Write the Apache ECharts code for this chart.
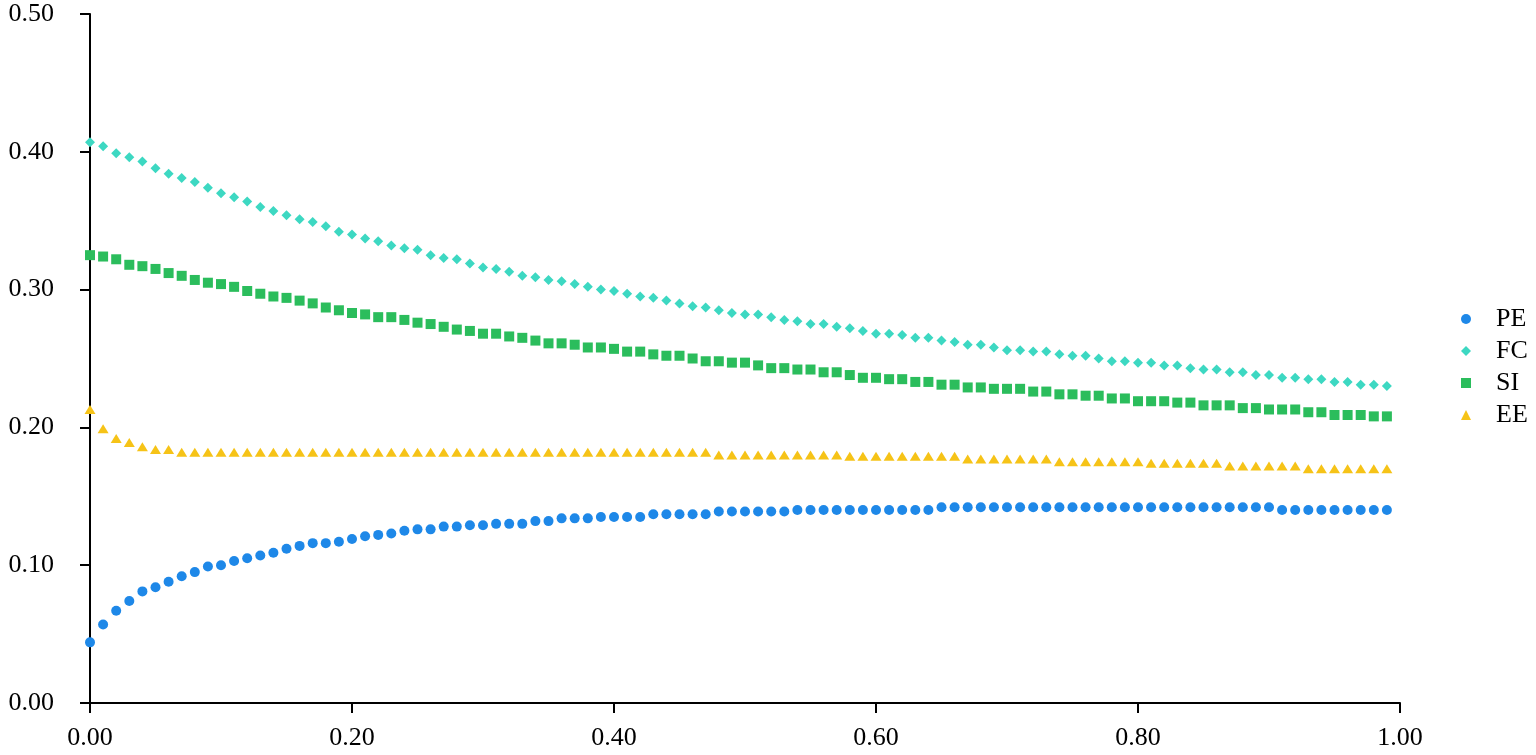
<!DOCTYPE html>
<html>
<head>
<meta charset="utf-8">
<script src="https://cdn.jsdelivr.net/npm/echarts@6/dist/echarts.min.js"></script>
<style>html,body{margin:0;padding:0;background:#fff;}#c{width:1536px;height:755px;}</style>
</head>
<body>
<div id="c"></div>
<script>
const xs = [0.00,0.01,0.02,0.03,0.04,0.05,0.06,0.07,0.08,0.09,
0.10,0.11,0.12,0.13,0.14,0.15,0.16,0.17,0.18,0.19,
0.20,0.21,0.22,0.23,0.24,0.25,0.26,0.27,0.28,0.29,
0.30,0.31,0.32,0.33,0.34,0.35,0.36,0.37,0.38,0.39,
0.40,0.41,0.42,0.43,0.44,0.45,0.46,0.47,0.48,0.49,
0.50,0.51,0.52,0.53,0.54,0.55,0.56,0.57,0.58,0.59,
0.60,0.61,0.62,0.63,0.64,0.65,0.66,0.67,0.68,0.69,
0.70,0.71,0.72,0.73,0.74,0.75,0.76,0.77,0.78,0.79,
0.80,0.81,0.82,0.83,0.84,0.85,0.86,0.87,0.88,0.89,
0.90,0.91,0.92,0.93,0.94,0.95,0.96,0.97,0.98,0.99];

const PE = [0.044,0.057,0.067,0.074,0.081,0.084,0.088,0.092,0.095,0.099,
0.100,0.103,0.105,0.107,0.109,0.112,0.114,0.116,0.116,0.117,
0.119,0.121,0.122,0.123,0.125,0.126,0.126,0.128,0.128,0.129,
0.129,0.130,0.130,0.130,0.132,0.132,0.134,0.134,0.134,0.135,
0.135,0.135,0.135,0.137,0.137,0.137,0.137,0.137,0.139,0.139,
0.139,0.139,0.139,0.139,0.140,0.140,0.140,0.140,0.140,0.140,
0.140,0.140,0.140,0.140,0.140,0.142,0.142,0.142,0.142,0.142,
0.142,0.142,0.142,0.142,0.142,0.142,0.142,0.142,0.142,0.142,
0.142,0.142,0.142,0.142,0.142,0.142,0.142,0.142,0.142,0.142,
0.142,0.140,0.140,0.140,0.140,0.140,0.140,0.140,0.140,0.140];

const FC = [0.407,0.404,0.399,0.396,0.393,0.388,0.384,0.381,0.378,0.374,
0.370,0.367,0.364,0.360,0.357,0.354,0.351,0.349,0.346,0.342,
0.340,0.337,0.335,0.332,0.330,0.329,0.325,0.323,0.322,0.319,
0.316,0.315,0.313,0.310,0.309,0.307,0.306,0.304,0.302,0.300,
0.299,0.297,0.295,0.294,0.292,0.290,0.288,0.287,0.285,0.283,
0.282,0.282,0.280,0.278,0.277,0.275,0.275,0.273,0.272,0.270,
0.268,0.268,0.267,0.265,0.265,0.263,0.262,0.260,0.260,0.258,
0.256,0.256,0.255,0.255,0.253,0.252,0.252,0.250,0.248,0.248,
0.247,0.247,0.245,0.245,0.243,0.242,0.242,0.240,0.240,0.238,
0.238,0.236,0.236,0.235,0.235,0.233,0.233,0.231,0.231,0.230];

const SI = [0.325,0.324,0.322,0.318,0.317,0.315,0.312,0.310,0.307,0.305,
0.304,0.302,0.299,0.297,0.295,0.294,0.292,0.290,0.287,0.285,
0.283,0.282,0.280,0.280,0.278,0.276,0.275,0.273,0.271,0.270,
0.268,0.268,0.266,0.265,0.263,0.261,0.261,0.260,0.258,0.258,
0.257,0.255,0.255,0.253,0.252,0.252,0.250,0.248,0.248,0.247,
0.247,0.245,0.243,0.243,0.242,0.242,0.240,0.240,0.238,0.236,
0.236,0.235,0.235,0.233,0.233,0.231,0.231,0.229,0.229,0.228,
0.228,0.228,0.226,0.226,0.224,0.224,0.223,0.223,0.221,0.221,
0.219,0.219,0.219,0.218,0.218,0.216,0.216,0.216,0.214,0.214,
0.213,0.213,0.213,0.211,0.211,0.209,0.209,0.209,0.208,0.208];

const EE = [0.213,0.199,0.192,0.189,0.186,0.184,0.184,0.182,0.182,0.182,
0.182,0.182,0.182,0.182,0.182,0.182,0.182,0.182,0.182,0.182,
0.182,0.182,0.182,0.182,0.182,0.182,0.182,0.182,0.182,0.182,
0.182,0.182,0.182,0.182,0.182,0.182,0.182,0.182,0.182,0.182,
0.182,0.182,0.182,0.182,0.182,0.182,0.182,0.182,0.180,0.180,
0.180,0.180,0.180,0.180,0.180,0.180,0.180,0.180,0.179,0.179,
0.179,0.179,0.179,0.179,0.179,0.179,0.179,0.177,0.177,0.177,
0.177,0.177,0.177,0.177,0.175,0.175,0.175,0.175,0.175,0.175,
0.175,0.174,0.174,0.174,0.174,0.174,0.174,0.172,0.172,0.172,
0.172,0.172,0.172,0.170,0.170,0.170,0.170,0.170,0.170,0.170];

const seriesNames = ['PE','FC','SI','EE'];
const seriesData = [PE, FC, SI, EE];
const colors = ['#1e88e8','#3dd8c2','#2bbd5c','#f6c317'];
const symbols = ['circle','diamond','rect','triangle'];
const symbolSizes = [10,[10,10],10,[11,9]];

const font = '"Liberation Serif", "Times New Roman", serif';
const chart = echarts.init(document.getElementById('c'), null, {renderer:'canvas'});

const axisCommon = {
  axisLine:{show:true, lineStyle:{color:'#000', width:2}},
  axisTick:{show:true, inside:false, length:10, lineStyle:{color:'#000', width:2}},
  splitLine:{show:false},
  axisLabel:{color:'#000', fontFamily:font, fontSize:26, formatter:v=>v.toFixed(2)}
};

chart.setOption({
  animation:false,
  backgroundColor:'#fff',
  grid:{left:90, right:136, top:14, bottom:52, containLabel:false},
  xAxis:Object.assign({}, axisCommon, {type:'value', min:0, max:1, interval:0.2,
    axisLabel:Object.assign({}, axisCommon.axisLabel, {margin:22})}),
  yAxis:Object.assign({}, axisCommon, {type:'value', min:0, max:0.5, interval:0.1,
    axisLabel:Object.assign({}, axisCommon.axisLabel, {margin:36})}),
  legend:{
    orient:'vertical', left:1456, top:301, itemGap:6, itemWidth:10, itemHeight:10,
    textStyle:{color:'#000', fontFamily:font, fontSize:26, padding:[0,0,0,20]},
    data:seriesNames
  },
  series:seriesNames.map((n,k)=>({
    name:n, type:'scatter', symbol:symbols[k], symbolSize:symbolSizes[k],
    itemStyle:{color:colors[k], opacity:1},
    data:xs.map((x,i)=>[x, seriesData[k][i]])
  }))
});
</script>
</body>
</html>
